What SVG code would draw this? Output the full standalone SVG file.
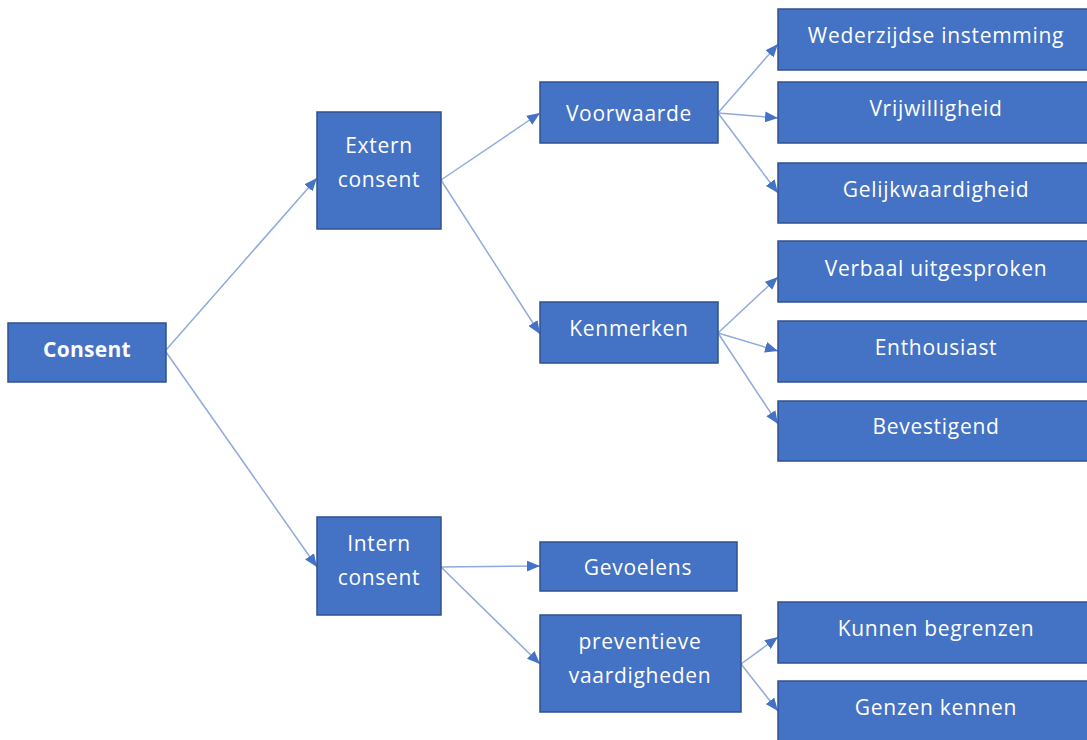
<svg xmlns="http://www.w3.org/2000/svg" width="1087" height="740" viewBox="0 0 1087 740">
<defs>
<style>
.box{fill:#4472C4;stroke:#2F528F;stroke-width:1.5}
.t{fill:#fff;font-family:"Open Sans","Liberation Sans",sans-serif;font-size:21px;letter-spacing:0.7px;text-anchor:middle;dominant-baseline:central}
.b{font-weight:bold;letter-spacing:0.3px}
.c{stroke:#8FAADC;stroke-width:1.5;fill:none;marker-end:url(#ah)}
</style>
<marker id="ah" viewBox="0 0 12 10" refX="12" refY="5" markerWidth="13" markerHeight="11" markerUnits="userSpaceOnUse" orient="auto">
<path d="M0,0 L12,5 L0,10 Z" fill="#4472C4"/>
</marker>
</defs>
<rect width="1087" height="740" fill="#fff"/>
<g id="connectors">
<line class="c" x1="166" y1="350" x2="317" y2="178"/>
<line class="c" x1="166" y1="352" x2="317" y2="567"/>
<line class="c" x1="441" y1="180" x2="540" y2="113"/>
<line class="c" x1="441" y1="180" x2="540" y2="334"/>
<line class="c" x1="718" y1="113" x2="778" y2="44"/>
<line class="c" x1="718" y1="113" x2="778" y2="118"/>
<line class="c" x1="718" y1="113" x2="778" y2="193"/>
<line class="c" x1="718" y1="333" x2="778" y2="277"/>
<line class="c" x1="718" y1="333" x2="778" y2="351"/>
<line class="c" x1="718" y1="333" x2="778" y2="424"/>
<line class="c" x1="441" y1="567" x2="540" y2="566"/>
<line class="c" x1="441" y1="567" x2="540" y2="664"/>
<line class="c" x1="741" y1="664" x2="778" y2="637"/>
<line class="c" x1="741" y1="664" x2="778" y2="711"/>
</g>
<g id="consent"><rect class="box" x="8" y="323" width="158" height="59"/><text class="t b" x="87" y="349">Consent</text></g>
<g id="extern"><rect class="box" x="317" y="112" width="124" height="117"/><text class="t" x="379" y="145">Extern</text><text class="t" x="379" y="179">consent</text></g>
<g id="intern"><rect class="box" x="317" y="517" width="124" height="98"/><text class="t" x="379" y="543">Intern</text><text class="t" x="379" y="577">consent</text></g>
<g id="voorwaarde"><rect class="box" x="540" y="82" width="178" height="61"/><text class="t" x="629" y="113">Voorwaarde</text></g>
<g id="kenmerken"><rect class="box" x="540" y="302" width="178" height="61"/><text class="t" x="629" y="328">Kenmerken</text></g>
<g id="gevoelens"><rect class="box" x="540" y="542" width="197" height="49"/><text class="t" x="638" y="567">Gevoelens</text></g>
<g id="preventieve"><rect class="box" x="540" y="615" width="201" height="97"/><text class="t" x="640" y="641">preventieve</text><text class="t" x="640" y="675">vaardigheden</text></g>
<g id="wederzijdse"><rect class="box" x="778" y="9" width="315" height="61"/><text class="t" x="936" y="35">Wederzijdse instemming</text></g>
<g id="vrijwilligheid"><rect class="box" x="778" y="82" width="315" height="61"/><text class="t" x="936" y="108">Vrijwilligheid</text></g>
<g id="gelijkwaardigheid"><rect class="box" x="778" y="163" width="315" height="60"/><text class="t" x="936" y="189">Gelijkwaardigheid</text></g>
<g id="verbaal"><rect class="box" x="778" y="241" width="315" height="61"/><text class="t" x="936" y="268">Verbaal uitgesproken</text></g>
<g id="enthousiast"><rect class="box" x="778" y="321" width="315" height="61"/><text class="t" x="936" y="347">Enthousiast</text></g>
<g id="bevestigend"><rect class="box" x="778" y="401" width="315" height="60"/><text class="t" x="936" y="426">Bevestigend</text></g>
<g id="kunnen"><rect class="box" x="778" y="602" width="315" height="61"/><text class="t" x="936" y="628">Kunnen begrenzen</text></g>
<g id="genzen"><rect class="box" x="778" y="681" width="315" height="65"/><text class="t" x="936" y="707">Genzen kennen</text></g>
</svg>
